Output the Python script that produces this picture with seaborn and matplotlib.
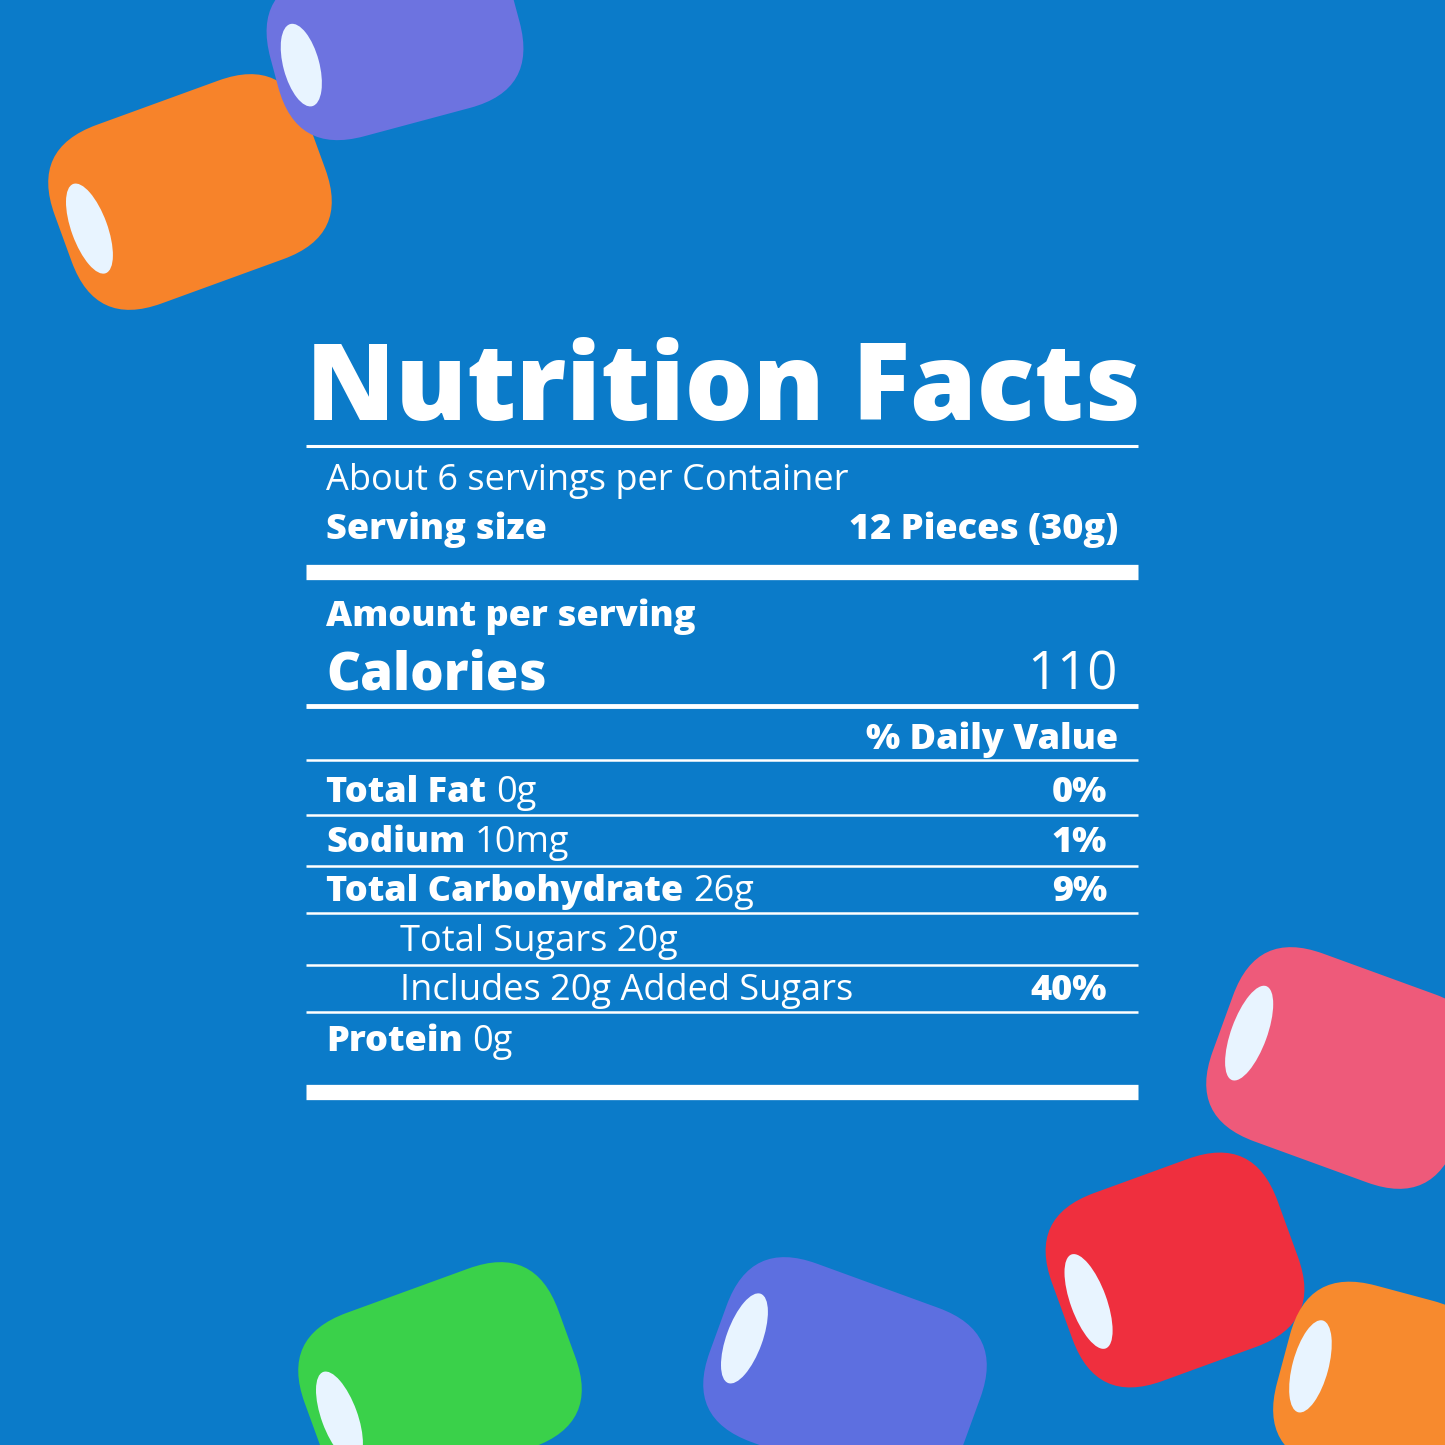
import matplotlib
matplotlib.use("Agg")
import matplotlib.pyplot as plt
import seaborn as sns
from matplotlib.patches import FancyBboxPatch, Ellipse
import matplotlib.transforms as mtransforms

sns.set_theme(style="white")
plt.rcParams['font.family'] = ['Open Sans', 'DejaVu Sans']

BG = "#0b7bc9"
title = "Nutrition Facts"
servings = "About 6 servings per Container"
serving_label, serving_value = "Serving size", "12 Pieces (30g)"
amount_label = "Amount per serving"
calories_label, calories_value = "Calories", "110"
dv_label = "% Daily Value"
row_bold = ["Total Fat", "Sodium", "Total Carbohydrate", "", "", "Protein"]
row_rest = ["0g", "10mg", "26g", "Total Sugars 20g", "Includes 20g Added Sugars", "0g"]
row_indent = [False, False, False, True, True, False]
row_pct = ["0%", "1%", "9%", "", "40%", ""]

candy_x = [190, 395, 1345, 1175, 440, 845, 1380]
candy_y = [192, 40, 1068, 1270, 1380, 1375, 1385]
candy_w = [270, 250, 260, 240, 270, 270, 200]
candy_h = [190, 170, 200, 200, 190, 190, 190]
candy_a = [-20, -15, 20, -20, -20, 20, 15]
candy_c = ["#f7832a", "#6d73e0", "#ee5a7a", "#ef2f3e", "#3ad14a", "#5d6fe0", "#f78a2e"]

fig = plt.figure(figsize=(14.45, 14.45), dpi=100)
fig.patch.set_facecolor(BG)
ax = fig.add_axes([0, 0, 1, 1])
ax.set_facecolor(BG)
ax.set_xlim(0, 1445)
ax.set_ylim(1445, 0)
ax.axis("off")

for cx, cy, w, h, a, c in zip(candy_x, candy_y, candy_w, candy_h, candy_a, candy_c):
    tr = mtransforms.Affine2D().rotate_deg_around(cx, cy, a) + ax.transData
    p = FancyBboxPatch((cx - w / 2, cy - h / 2), w, h, boxstyle="round,pad=0,rounding_size=70",
                       fc=c, ec="none", transform=tr, zorder=1)
    ax.add_patch(p)
    e = Ellipse((cx - w / 2 + 28, cy), 36, h * 0.5, fc="#e8f4ff", ec="none", transform=tr, zorder=1)
    ax.add_patch(e)

W = "white"
L, R = 306, 1138
FS = 26
ax.text(306, 420, title, color=W, fontsize=77, fontweight="heavy", va="baseline", ha="left")
ax.hlines(446, L, R, color=W, lw=2.2)
ax.text(326, 490, servings, color=W, fontsize=FS, fontweight="medium", va="baseline")
ax.text(326, 539, serving_label, color=W, fontsize=FS, fontweight="heavy", va="baseline")
ax.text(1118, 539, serving_value, color=W, fontsize=FS, fontweight="heavy", va="baseline", ha="right")
ax.hlines(572, L, R, color=W, lw=11)
ax.text(326, 626, amount_label, color=W, fontsize=FS, fontweight="heavy", va="baseline")
ax.text(326, 690, calories_label, color=W, fontsize=38, fontweight="heavy", va="baseline")
ax.text(1118, 690, calories_value, color=W, fontsize=38, fontweight="medium", va="baseline", ha="right")
ax.hlines(706, L, R, color=W, lw=3.5)
ax.text(1118, 749, dv_label, color=W, fontsize=FS, fontweight="heavy", va="baseline", ha="right")
ax.hlines(760, L, R, color=W, lw=1.8)

row_y = [802, 852, 901, 951, 1000, 1051]
rule_y = [815, 866, 913, 965, 1012, None]
fig.canvas.draw()
for b, r, ind, pct, y, ry in zip(row_bold, row_rest, row_indent, row_pct, row_y, rule_y):
    x = 400 if ind else 326
    if b:
        t = ax.text(x, y, b, color=W, fontsize=FS, fontweight="heavy", va="baseline")
        bb = t.get_window_extent(renderer=fig.canvas.get_renderer()).transformed(ax.transData.inverted())
        x = bb.x1 + 10
    ax.text(x, y, r, color=W, fontsize=FS, fontweight="medium", va="baseline")
    if pct:
        ax.text(1107, y, pct, color=W, fontsize=FS, fontweight="heavy", va="baseline", ha="right")
    if ry:
        ax.hlines(ry, L, R, color=W, lw=1.8)
ax.hlines(1092, L, R, color=W, lw=11)

fig.savefig("out.png", dpi=100, facecolor=BG)
